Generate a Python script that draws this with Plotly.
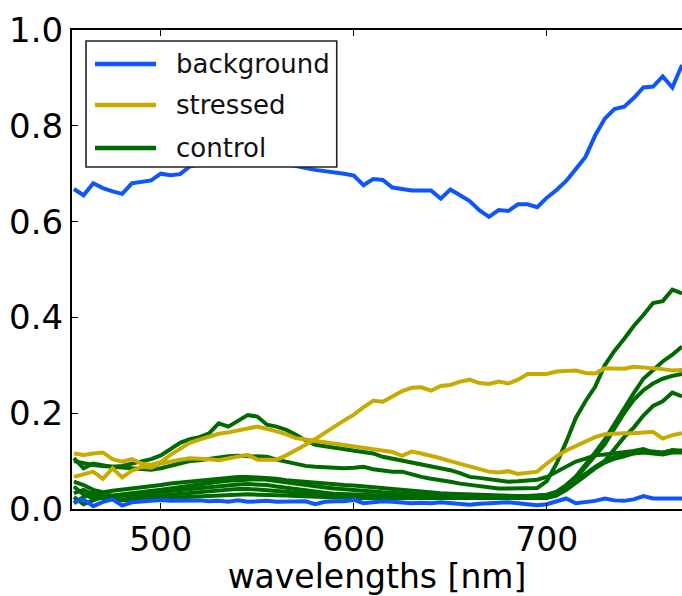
import plotly.graph_objects as go

# ---------------- data ----------------
wavelengths = list(range(455, 771, 5))  # 455 ... 770 nm

background = [0.668, 0.655, 0.680, 0.670, 0.663, 0.658, 0.680, 0.682, 0.686, 0.700,
              0.697, 0.699, 0.715, 0.720, 0.725, 0.730, 0.735, 0.735, 0.735, 0.730,
              0.730, 0.725, 0.720, 0.715, 0.712, 0.708, 0.706, 0.704, 0.700, 0.696,
              0.676, 0.689, 0.687, 0.671, 0.667, 0.665, 0.665, 0.665, 0.648, 0.667,
              0.655, 0.643, 0.624, 0.610, 0.624, 0.622, 0.636, 0.636, 0.630, 0.650,
              0.666, 0.685, 0.710, 0.735, 0.780, 0.815, 0.835, 0.840, 0.858, 0.880,
              0.882, 0.903, 0.880, 0.927]

background_low = [0.015, 0.020, 0.006, 0.015, 0.020, 0.007, 0.014, 0.016, 0.018, 0.019,
                  0.017, 0.018, 0.017, 0.018, 0.016, 0.017, 0.015, 0.018, 0.015, 0.016,
                  0.017, 0.015, 0.016, 0.017, 0.016, 0.010, 0.015, 0.016, 0.016, 0.019,
                  0.012, 0.014, 0.016, 0.015, 0.013, 0.012, 0.013, 0.012, 0.014, 0.012,
                  0.010, 0.009, 0.011, 0.012, 0.013, 0.014, 0.012, 0.010, 0.008, 0.010,
                  0.015, 0.022, 0.012, 0.014, 0.017, 0.022, 0.018, 0.017, 0.020, 0.027,
                  0.022, 0.022, 0.021, 0.022]

stressed_a = [0.067, 0.072, 0.078, 0.063, 0.085, 0.066, 0.080, 0.088, 0.086, 0.095,
              0.100, 0.103, 0.106, 0.106, 0.104, 0.102, 0.106, 0.110, 0.113, 0.103,
              0.102, 0.103, 0.112, 0.122, 0.134, 0.146, 0.160, 0.172, 0.185, 0.197,
              0.212, 0.226, 0.224, 0.235, 0.246, 0.253, 0.254, 0.247, 0.257, 0.259,
              0.266, 0.270, 0.263, 0.261, 0.266, 0.262, 0.270, 0.282, 0.283, 0.282,
              0.287, 0.287, 0.289, 0.284, 0.283, 0.294, 0.293, 0.293, 0.297, 0.296,
              0.295, 0.292, 0.289, 0.290]

stressed_b = [0.116, 0.113, 0.116, 0.118, 0.104, 0.099, 0.104, 0.095, 0.092, 0.098,
              0.113, 0.125, 0.138, 0.145, 0.152, 0.157, 0.160, 0.163, 0.168, 0.172,
              0.168, 0.162, 0.156, 0.148, 0.145, 0.142, 0.139, 0.137, 0.134, 0.131,
              0.128, 0.126, 0.122, 0.119, 0.111, 0.120, 0.116, 0.112, 0.106, 0.100,
              0.095, 0.088, 0.085, 0.078, 0.076, 0.079, 0.073, 0.076, 0.078, 0.095,
              0.110, 0.122, 0.131, 0.140, 0.150, 0.156, 0.158, 0.158, 0.158, 0.159,
              0.161, 0.147, 0.154, 0.158]

control_1 = [0.106, 0.085, 0.095, 0.092, 0.088, 0.090, 0.094, 0.099, 0.104, 0.112,
             0.125, 0.138, 0.146, 0.150, 0.158, 0.179, 0.172, 0.185, 0.196, 0.193,
             0.176, 0.172, 0.165, 0.155, 0.143, 0.134, 0.131, 0.128, 0.126, 0.124,
             0.120, 0.116, 0.109, 0.105, 0.102, 0.098, 0.094, 0.088, 0.085, 0.081,
             0.075, 0.067, 0.065, 0.062, 0.060, 0.057, 0.058, 0.059, 0.061, 0.067,
             0.078, 0.090, 0.099, 0.105, 0.112, 0.114, 0.116, 0.118, 0.121, 0.125,
             0.118, 0.117, 0.123, 0.120]

control_2 = [0.100, 0.095, 0.092, 0.090, 0.088, 0.086, 0.085, 0.083, 0.082, 0.085,
             0.090, 0.095, 0.100, 0.102, 0.105, 0.108, 0.110, 0.111, 0.111, 0.110,
             0.109, 0.103, 0.098, 0.093, 0.090, 0.088, 0.087, 0.085, 0.085, 0.086,
             0.088, 0.083, 0.080, 0.078, 0.078, 0.072, 0.067, 0.063, 0.061, 0.057,
             0.053, 0.050, 0.047, 0.044, 0.043, 0.043, 0.043, 0.043, 0.044, 0.058,
             0.095, 0.140, 0.190, 0.225, 0.255, 0.300, 0.330, 0.355, 0.382, 0.405,
             0.430, 0.434, 0.458, 0.450]

control_3 = [0.057, 0.050, 0.040, 0.035, 0.038, 0.040, 0.042, 0.045, 0.048, 0.050,
             0.053, 0.055, 0.058, 0.060, 0.063, 0.065, 0.066, 0.067, 0.067, 0.066,
             0.065, 0.063, 0.060, 0.058, 0.056, 0.054, 0.052, 0.051, 0.050, 0.049,
             0.047, 0.045, 0.043, 0.041, 0.039, 0.037, 0.035, 0.034, 0.033, 0.032,
             0.031, 0.030, 0.029, 0.029, 0.028, 0.028, 0.027, 0.027, 0.028, 0.030,
             0.036, 0.050, 0.068, 0.092, 0.118, 0.145, 0.178, 0.212, 0.242, 0.272,
             0.290, 0.308, 0.322, 0.339]

control_4 = [0.047, 0.030, 0.022, 0.030, 0.028, 0.030, 0.032, 0.035, 0.038, 0.040,
             0.043, 0.046, 0.050, 0.053, 0.055, 0.057, 0.059, 0.060, 0.062, 0.062,
             0.061, 0.058, 0.055, 0.052, 0.049, 0.047, 0.045, 0.043, 0.041, 0.040,
             0.039, 0.037, 0.035, 0.034, 0.032, 0.031, 0.030, 0.029, 0.028, 0.028,
             0.027, 0.027, 0.027, 0.026, 0.026, 0.026, 0.026, 0.026, 0.027, 0.029,
             0.034, 0.047, 0.064, 0.088, 0.110, 0.135, 0.168, 0.200, 0.228, 0.248,
             0.262, 0.272, 0.278, 0.282]

control_5 = [0.033, 0.040, 0.030, 0.022, 0.025, 0.028, 0.030, 0.032, 0.034, 0.036,
             0.038, 0.040, 0.042, 0.045, 0.047, 0.049, 0.050, 0.051, 0.052, 0.052,
             0.050, 0.047, 0.044, 0.041, 0.038, 0.036, 0.034, 0.032, 0.031, 0.030,
             0.029, 0.028, 0.027, 0.027, 0.026, 0.026, 0.025, 0.025, 0.025, 0.025,
             0.025, 0.024, 0.024, 0.024, 0.024, 0.024, 0.024, 0.024, 0.025, 0.027,
             0.031, 0.040, 0.054, 0.070, 0.087, 0.100, 0.125, 0.150, 0.170, 0.195,
             0.215, 0.225, 0.243, 0.235]

control_6 = [0.012, 0.025, 0.035, 0.030, 0.022, 0.020, 0.022, 0.025, 0.027, 0.028,
             0.030, 0.032, 0.034, 0.036, 0.038, 0.040, 0.041, 0.042, 0.042, 0.041,
             0.040, 0.038, 0.036, 0.034, 0.032, 0.030, 0.029, 0.028, 0.027, 0.026,
             0.025, 0.025, 0.024, 0.024, 0.024, 0.023, 0.023, 0.023, 0.023, 0.023,
             0.023, 0.022, 0.022, 0.022, 0.022, 0.022, 0.022, 0.022, 0.023, 0.025,
             0.030, 0.045, 0.060, 0.075, 0.088, 0.100, 0.108, 0.113, 0.117, 0.120,
             0.120, 0.118, 0.122, 0.122]

control_7 = [0.025, 0.010, 0.018, 0.025, 0.020, 0.018, 0.020, 0.021, 0.022, 0.023,
             0.024, 0.025, 0.026, 0.027, 0.028, 0.029, 0.030, 0.031, 0.031, 0.030,
             0.030, 0.029, 0.028, 0.027, 0.026, 0.025, 0.025, 0.024, 0.024, 0.023,
             0.023, 0.023, 0.022, 0.022, 0.022, 0.022, 0.022, 0.021, 0.021, 0.021,
             0.021, 0.021, 0.021, 0.021, 0.021, 0.021, 0.021, 0.021, 0.022, 0.023,
             0.028, 0.040, 0.055, 0.070, 0.085, 0.097, 0.105, 0.110, 0.116, 0.118,
             0.115, 0.114, 0.118, 0.118]

x_ticks = [500, 600, 700]
y_ticks = [0.0, 0.2, 0.4, 0.6, 0.8, 1.0]
legend_labels = ["background", "stressed", "control"]

# ---------------- styles ----------------
BLUE = "#0f55ff"
YELLOW = "#c8aa00"
GREEN = "#006a00"
FONT = "DejaVu Sans"
LW = 4

fig = go.Figure()

series = [
    (control_1, GREEN, "control"), (control_2, GREEN, "control"),
    (control_3, GREEN, "control"), (control_4, GREEN, "control"),
    (control_5, GREEN, "control"), (control_6, GREEN, "control"),
    (control_7, GREEN, "control"),
    (stressed_a, YELLOW, "stressed"), (stressed_b, YELLOW, "stressed"),
    (background_low, BLUE, "background"), (background, BLUE, "background"),
]
for vals, col, name in series:
    fig.add_trace(go.Scatter(x=wavelengths, y=vals, mode="lines", name=name,
                             line=dict(color=col, width=LW), showlegend=False,
                             hoverinfo="skip"))

# ---------------- custom legend (matplotlib-like) ----------------
lx0, lx1, ly0, ly1 = 0.023, 0.434, 0.714, 0.977
shapes = [dict(type="rect", xref="paper", yref="paper", x0=lx0, x1=lx1, y0=ly0, y1=ly1,
               line=dict(color="#222222", width=1.6), fillcolor="white", layer="above")]
annotations = []
row_y = [0.929, 0.8434, 0.7537]
for lab, col, yy in zip(legend_labels, [BLUE, YELLOW, GREEN], row_y):
    shapes.append(dict(type="line", xref="paper", yref="paper", x0=0.0377, x1=0.1377,
                       y0=yy, y1=yy, line=dict(color=col, width=4.5), layer="above"))
    annotations.append(dict(xref="paper", yref="paper", x=0.168, y=yy, text=lab,
                            showarrow=False, xanchor="left", yanchor="middle",
                            font=dict(family=FONT, size=26, color="#111111")))

fig.update_layout(
    width=682, height=596,
    margin=dict(l=72, r=0, t=30, b=87),
    paper_bgcolor="white", plot_bgcolor="white",
    font=dict(family=FONT, size=32, color="black"),
    shapes=shapes, annotations=annotations,
    showlegend=False,
)
fig.update_xaxes(range=[454, 770], tickvals=x_ticks, ticktext=[str(v) for v in x_ticks],
                 showgrid=False, zeroline=False, showline=True, linecolor="black",
                 linewidth=2, mirror="ticks", ticks="inside", ticklen=6, tickwidth=1,
                 tickcolor="black", tickfont=dict(family=FONT, size=33),
                 title=dict(text="wavelengths [nm]", font=dict(family=FONT, size=33),
                            standoff=2))
fig.update_yaxes(range=[0, 1.0], tickvals=y_ticks, ticktext=[f"{v:.1f}" for v in y_ticks],
                 showgrid=False, zeroline=False, showline=True, linecolor="black",
                 linewidth=2, mirror=False, ticks="inside", ticklen=6, tickwidth=1,
                 tickcolor="black", tickfont=dict(family=FONT, size=34))

fig.write_html("out.html")
